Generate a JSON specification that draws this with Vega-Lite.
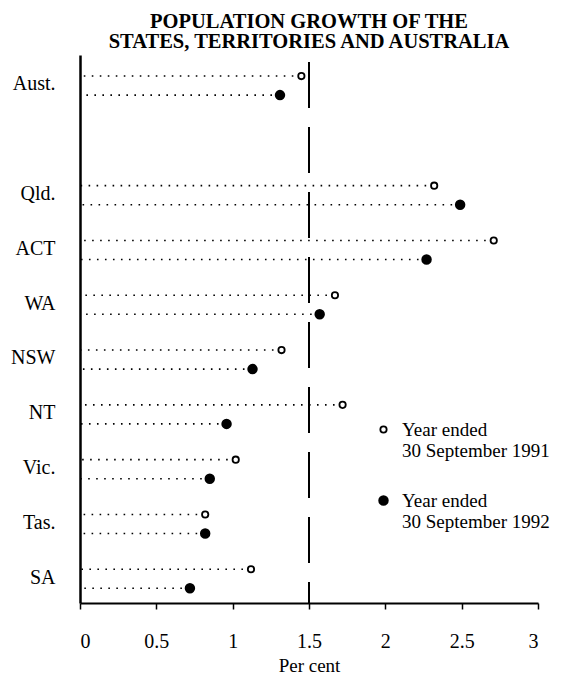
{
  "$schema": "https://vega.github.io/schema/vega-lite/v6.json",
  "autosize": "none",
  "width": 458,
  "height": 548,
  "padding": {"left": 80, "top": 55, "right": 29, "bottom": 72},
  "background": "white",
  "title": {
    "text": ["POPULATION GROWTH OF THE", "STATES, TERRITORIES AND AUSTRALIA"],
    "font": "Liberation Serif",
    "fontSize": 20.5,
    "fontWeight": "bold",
    "color": "black",
    "anchor": "middle",
    "lineHeight": 20,
    "offset": 2
  },
  "config": {
    "view": {"stroke": null},
    "font": "Liberation Serif",
    "axis": {
      "labelFont": "Liberation Serif",
      "titleFont": "Liberation Serif",
      "labelColor": "black",
      "titleColor": "black",
      "domainColor": "black",
      "tickColor": "black",
      "grid": false
    },
    "legend": {
      "labelFont": "Liberation Serif",
      "labelFontSize": 19,
      "labelColor": "black"
    }
  },
  "data": {
    "values": [
      {"state": "Aust.", "year": "1991", "value": 1.45},
      {"state": "Aust.", "year": "1992", "value": 1.31},
      {"state": "Qld.", "year": "1991", "value": 2.32},
      {"state": "Qld.", "year": "1992", "value": 2.49},
      {"state": "ACT", "year": "1991", "value": 2.71},
      {"state": "ACT", "year": "1992", "value": 2.27},
      {"state": "WA", "year": "1991", "value": 1.67},
      {"state": "WA", "year": "1992", "value": 1.57},
      {"state": "NSW", "year": "1991", "value": 1.32},
      {"state": "NSW", "year": "1992", "value": 1.13},
      {"state": "NT", "year": "1991", "value": 1.72},
      {"state": "NT", "year": "1992", "value": 0.96},
      {"state": "Vic.", "year": "1991", "value": 1.02},
      {"state": "Vic.", "year": "1992", "value": 0.85},
      {"state": "Tas.", "year": "1991", "value": 0.82},
      {"state": "Tas.", "year": "1992", "value": 0.82},
      {"state": "SA", "year": "1991", "value": 1.12},
      {"state": "SA", "year": "1992", "value": 0.72}
    ]
  },
  "encoding": {
    "y": {
      "field": "state",
      "type": "nominal",
      "scale": {
        "domain": ["Aust.", " ", "Qld.", "ACT", "WA", "NSW", "NT", "Vic.", "Tas.", "SA"],
        "paddingInner": 0,
        "paddingOuter": 0
      },
      "axis": {
        "title": null,
        "ticks": false,
        "domainWidth": 2.5,
        "labelFontSize": 20,
        "labelPadding": 25,
        "labelOffset": 2
      }
    },
    "yOffset": {
      "field": "year",
      "type": "nominal",
      "scale": {"domain": ["1991", "1992"], "paddingInner": 0, "paddingOuter": 0.44, "align": 0.69}
    }
  },
  "layer": [
    {
      "mark": {"type": "rule", "color": "black", "strokeWidth": 1.6, "strokeDash": [1.6, 6.4]},
      "encoding": {
        "x": {
          "field": "value",
          "type": "quantitative",
          "scale": {"domain": [0, 3], "nice": false},
          "axis": {
            "title": "Per cent",
            "values": [0, 0.5, 1, 1.5, 2, 2.5, 3],
            "format": "~g",
            "domainWidth": 2,
            "tickSize": 6,
            "tickWidth": 1.5,
            "labelFontSize": 20,
            "labelPadding": 22,
            "titleFontSize": 19,
            "titleFontWeight": "normal",
            "titlePadding": 5
          }
        },
        "x2": {"datum": 0}
      }
    },
    {
      "mark": {"type": "rule", "color": "black", "strokeWidth": 1.8, "strokeDash": [46, 19], "strokeDashOffset": 58},
      "encoding": {
        "x": {"datum": 1.5},
        "y": null,
        "yOffset": null
      }
    },
    {
      "mark": {"type": "circle", "stroke": "black", "strokeWidth": 1.8, "opacity": 1},
      "encoding": {
        "x": {"field": "value", "type": "quantitative"},
        "fill": {
          "field": "year",
          "type": "nominal",
          "scale": {"domain": ["1991", "1992"], "range": ["white", "black"]},
          "legend": {
            "title": null,
            "orient": "none",
            "legendX": 294,
            "legendY": 365,
            "padding": 0,
            "rowPadding": 30,
            "labelBaseline": "middle",
            "labelOffset": 9,
            "symbolStrokeColor": "black",
            "symbolStrokeWidth": 1.8,
            "labelExpr": "['Year ended', '30 September ' + datum.label]"
          }
        },
        "size": {
          "field": "year",
          "type": "nominal",
          "scale": {"domain": ["1991", "1992"], "range": [40, 75]}
        }
      }
    }
  ]
}
